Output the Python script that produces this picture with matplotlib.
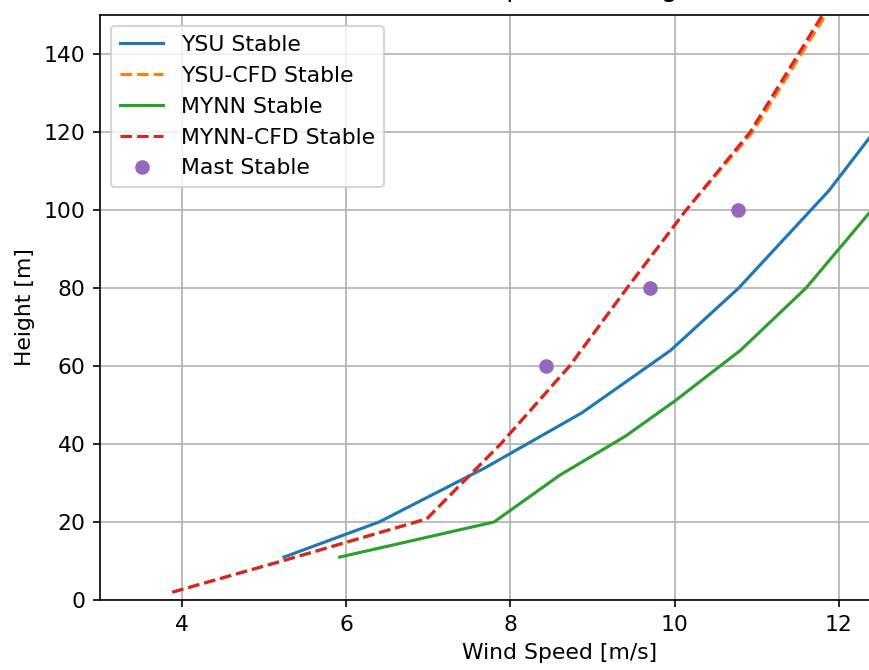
from matplotlib import pyplot as plt
import numpy as np

# YSU model profile
ysu_speed = [5.24, 6.4, 7.7, 8.87, 9.95, 10.78, 11.88, 12.5, 13.3]
ysu_height = [11, 20, 34, 48, 64, 80, 105, 122, 150]

# YSU-CFD profile
ysucfd_speed = [3.88, 5.3, 6.98, 7.88, 8.72, 9.42, 10.14, 10.95, 11.84]
ysucfd_height = [2, 10.5, 20.8, 40, 60, 80, 100, 120, 150]

# MYNN model profile
mynn_speed = [5.92, 7.8, 8.6, 9.4, 10.0, 10.8, 11.6, 12.4, 13.2]
mynn_height = [11, 20, 32, 42, 51, 64, 80, 100, 125]

# MYNN-CFD profile
mynncfd_speed = [3.88, 5.3, 6.98, 7.88, 8.72, 9.42, 10.14, 10.92, 11.8]
mynncfd_height = [2, 10.5, 20.8, 40, 60, 80, 100, 120, 150]

# mast measurements
mast_speed = [8.43, 9.7, 10.77]
mast_height = [60, 80, 100]

plt.rcParams['font.size'] = 10.5

fig = plt.figure(figsize=(869 / 150, 670 / 150), dpi=150)
ax = fig.add_axes([100 / 869, 70 / 670, 919.5 / 869, 585 / 670])

ax.plot(ysu_speed, ysu_height, '-', color='tab:blue', label='YSU Stable')
ax.plot(ysucfd_speed, ysucfd_height, '--', color='tab:orange', label='YSU-CFD Stable')
ax.plot(mynn_speed, mynn_height, '-', color='tab:green', label='MYNN Stable')
ax.plot(mynncfd_speed, mynncfd_height, '--', color='tab:red', label='MYNN-CFD Stable')
ax.plot(mast_speed, mast_height, 'o', color='tab:purple', label='Mast Stable')

ax.set_xlim(3, 14.2)
ax.set_ylim(0, 150)
ax.set_xticks([4, 6, 8, 10, 12])
ax.set_xlabel('Wind Speed [m/s]')
ax.set_ylabel('Height [m]')
ax.set_title('Wind Speed vs Height', pad=9)
ax.grid(True)
ax.legend(loc='upper left')

fig.savefig('out.png', dpi=150)
